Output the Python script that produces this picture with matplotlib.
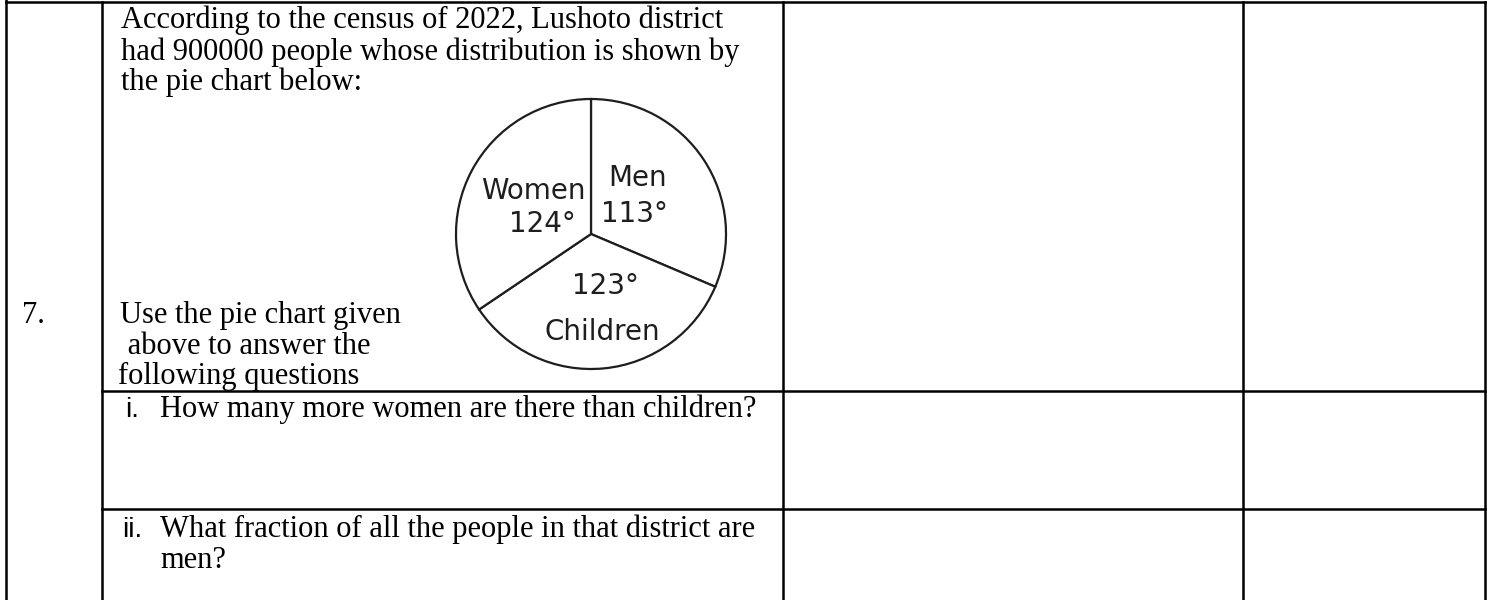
import matplotlib
matplotlib.use('Agg')
import matplotlib.pyplot as plt

# pie data (degrees)
groups = ['Men', 'Children', 'Women']
degrees = [113, 123, 124]

intro = ['According to the census of 2022, Lushoto district',
         'had 900000 people whose distribution is shown by',
         'the pie chart below:']
use_text = ['Use the pie chart given', ' above to answer the', 'following questions']
q_num = '7.'
q1 = 'How many more women are there than children?'
q2 = ['What fraction of all the people in that district are', 'men?']

W, H = 1490, 600
fig = plt.figure(figsize=(W/100, H/100), dpi=100)
ax = fig.add_axes([0, 0, 1, 1])
ax.set_xlim(0, W)
ax.set_ylim(H, 0)
ax.axis('off')

lw = 1.8
# table grid
ax.plot([6, 6], [0, 600], color='black', lw=lw)
for x in [102, 783, 1243, 1485]:
    ax.plot([x, x], [2, 600], color='black', lw=lw)
ax.plot([6, 1485], [2, 2], color='black', lw=lw)
ax.plot([102, 1485], [391, 391], color='black', lw=lw)
ax.plot([102, 1485], [509, 509], color='black', lw=lw)

serif = dict(family='Liberation Serif', fontsize=22, va='baseline', color='black')
sans = dict(family='Liberation Sans', fontsize=20, va='baseline', color='black')

for txt, y in zip(intro, [28, 60, 90]):
    ax.text(121, y, txt, **serif)
for txt, x, y in zip(use_text, [120, 120, 118], [323, 354, 384]):
    ax.text(x, y, txt, **serif)
ax.text(22, 323, q_num, **serif)

ax.text(125, 417, 'i.', **sans)
ax.text(160, 417, q1, **serif)
ax.text(122, 537, 'ii.', **sans)
ax.text(160, 537, q2[0], **serif)
ax.text(160, 568, q2[1], **serif)

# pie chart
cx, cy, r = 591, 234, 135
pad = 1.05
pax = fig.add_axes([(cx - r*pad)/W, 1 - (cy + r*pad)/H, 2*r*pad/W, 2*r*pad/H])
pax.pie(degrees, startangle=90, counterclock=False,
        wedgeprops=dict(facecolor='white', edgecolor='#1e1e1e', linewidth=1.6))
pax.set_xlim(-pad, pad)
pax.set_ylim(-pad, pad)
pax.set_aspect('equal')
pax.axis('off')

# labels go on the pie axes so they sit above the white wedges
lab = dict(family='DejaVu Sans', fontsize=20, ha='center', va='center',
           color='#1e1e1e', transform=ax.transData)
d = dict(zip(groups, degrees))
pax.text(533, 191, 'Women', **lab)
pax.text(542, 224, f"{d['Women']}°", **lab)
pax.text(638, 178, 'Men', **lab)
pax.text(634, 214, f"{d['Men']}°", **lab)
pax.text(605, 286, f"{d['Children']}°", **lab)
pax.text(602, 332, 'Children', **lab)

fig.savefig('out.png', dpi=100)
